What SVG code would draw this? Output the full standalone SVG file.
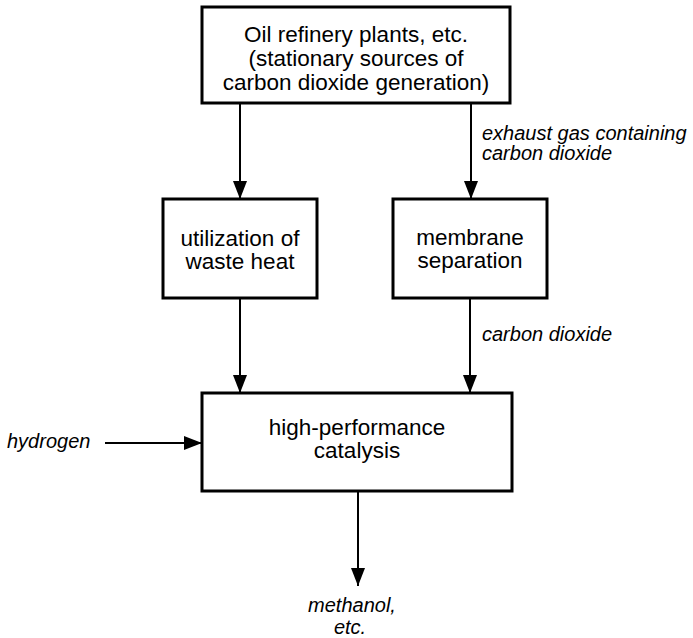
<svg xmlns="http://www.w3.org/2000/svg" width="693" height="638" viewBox="0 0 693 638">
<defs>
<style>
.box{fill:#fff;stroke:#000;stroke-width:3}
.t{font-family:"Liberation Sans",Arial,sans-serif;font-size:22.5px;fill:#000;text-anchor:middle}
.l{font-family:"Liberation Sans",Arial,sans-serif;font-size:20px;font-style:italic;fill:#000}
.c{stroke:#000;stroke-width:2;fill:none;marker-end:url(#ah)}
</style>
<marker id="ah" viewBox="0 0 18 14" refX="18" refY="7" markerWidth="18" markerHeight="14" markerUnits="userSpaceOnUse" orient="auto">
<path d="M0,0 L18,7 L0,14 Z" fill="#000"/>
</marker>
</defs>
<rect width="693" height="638" fill="#fff"/>
<g id="connectors">
<line class="c" x1="240" y1="103" x2="240" y2="199"/>
<line class="c" x1="471" y1="103" x2="471" y2="199"/>
<line class="c" x1="240" y1="298" x2="240" y2="393"/>
<line class="c" x1="470" y1="298" x2="470" y2="393"/>
<line class="c" x1="105" y1="443" x2="202" y2="443"/>
<line class="c" x1="358" y1="491" x2="358" y2="586"/>
</g>
<g id="source">
<rect class="box" x="202" y="7" width="308" height="96"/>
<text class="t" x="356" y="42">Oil refinery plants, etc.</text>
<text class="t" x="356" y="66">(stationary sources of</text>
<text class="t" x="356" y="90">carbon dioxide generation)</text>
</g>
<g id="wasteheat">
<rect class="box" x="163" y="199" width="154" height="99"/>
<text class="t" x="240" y="246">utilization of</text>
<text class="t" x="240" y="269">waste heat</text>
</g>
<g id="membrane">
<rect class="box" x="393" y="199" width="154" height="99"/>
<text class="t" x="470" y="245">membrane</text>
<text class="t" x="470" y="268">separation</text>
</g>
<g id="catalysis">
<rect class="box" x="202" y="393" width="310" height="98"/>
<text class="t" x="357" y="435">high-performance</text>
<text class="t" x="357" y="458">catalysis</text>
</g>
<g id="labels">
<text class="l" x="482" y="140">exhaust gas containing</text>
<text class="l" x="482" y="160">carbon dioxide</text>
<text class="l" x="482" y="341">carbon dioxide</text>
<text class="l" x="7" y="448">hydrogen</text>
<text class="l" x="352" y="612" text-anchor="middle" font-size="19">methanol,</text>
<text class="l" x="350" y="634" text-anchor="middle" font-size="19">etc.</text>
</g>
</svg>
